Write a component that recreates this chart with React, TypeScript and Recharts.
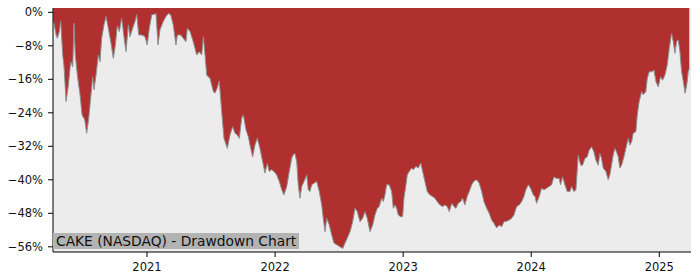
import React from "react";
import { AreaChart, Area, XAxis, YAxis, CartesianGrid } from "recharts";

// decimal-year timestamps and drawdown (%)
const years = [
  2020.268, 2020.274, 2020.29, 2020.3, 2020.315, 2020.326, 2020.342, 2020.352, 2020.368, 2020.386,
  2020.404, 2020.42, 2020.43, 2020.44, 2020.456, 2020.477, 2020.493, 2020.514, 2020.529, 2020.545,
  2020.56, 2020.576, 2020.586, 2020.602, 2020.62, 2020.633, 2020.646, 2020.664, 2020.68, 2020.698,
  2020.717, 2020.737, 2020.753, 2020.768, 2020.784, 2020.802, 2020.82, 2020.836, 2020.854, 2020.867,
  2020.888, 2020.906, 2020.92, 2020.935, 2020.959, 2020.984, 2021.002, 2021.018, 2021.037, 2021.055,
  2021.07, 2021.086, 2021.101, 2021.127, 2021.148, 2021.166, 2021.185, 2021.205, 2021.226, 2021.237,
  2021.263, 2021.283, 2021.304, 2021.315, 2021.336, 2021.361, 2021.388, 2021.408, 2021.427, 2021.44,
  2021.453, 2021.466, 2021.492, 2021.518, 2021.531, 2021.549, 2021.564, 2021.583, 2021.601, 2021.627,
  2021.648, 2021.669, 2021.687, 2021.705, 2021.721, 2021.739, 2021.752, 2021.773, 2021.791, 2021.804,
  2021.825, 2021.843, 2021.861, 2021.882, 2021.903, 2021.921, 2021.939, 2021.955, 2021.973, 2021.991,
  2022.012, 2022.033, 2022.052, 2022.069, 2022.091, 2022.111, 2022.13, 2022.142, 2022.155, 2022.169,
  2022.181, 2022.194, 2022.208, 2022.226, 2022.247, 2022.259, 2022.272, 2022.286, 2022.304, 2022.325,
  2022.345, 2022.364, 2022.376, 2022.39, 2022.403, 2022.423, 2022.442, 2022.46, 2022.481, 2022.507,
  2022.528, 2022.546, 2022.564, 2022.585, 2022.606, 2022.624, 2022.642, 2022.663, 2022.684, 2022.702,
  2022.72, 2022.741, 2022.762, 2022.78, 2022.798, 2022.813, 2022.832, 2022.845, 2022.858, 2022.871,
  2022.891, 2022.91, 2022.923, 2022.936, 2022.949, 2022.962, 2022.98, 2022.996, 2023.006, 2023.022,
  2023.032, 2023.048, 2023.066, 2023.079, 2023.1, 2023.118, 2023.137, 2023.152, 2023.17, 2023.188,
  2023.209, 2023.23, 2023.248, 2023.266, 2023.287, 2023.308, 2023.326, 2023.344, 2023.36, 2023.379,
  2023.397, 2023.412, 2023.43, 2023.449, 2023.464, 2023.482, 2023.5, 2023.516, 2023.535, 2023.553,
  2023.574, 2023.594, 2023.613, 2023.631, 2023.652, 2023.672, 2023.691, 2023.709, 2023.73, 2023.75,
  2023.769, 2023.787, 2023.808, 2023.828, 2023.847, 2023.865, 2023.886, 2023.906, 2023.925, 2023.943,
  2023.958, 2023.977, 2023.995, 2024.016, 2024.029, 2024.042, 2024.062, 2024.081, 2024.099, 2024.12,
  2024.14, 2024.159, 2024.177, 2024.198, 2024.219, 2024.229, 2024.245, 2024.263, 2024.281, 2024.302,
  2024.315, 2024.333, 2024.349, 2024.367, 2024.386, 2024.401, 2024.419, 2024.437, 2024.453, 2024.471,
  2024.489, 2024.505, 2024.523, 2024.536, 2024.549, 2024.562, 2024.583, 2024.601, 2024.614, 2024.627,
  2024.64, 2024.653, 2024.666, 2024.679, 2024.692, 2024.706, 2024.724, 2024.739, 2024.757, 2024.77,
  2024.784, 2024.796, 2024.817, 2024.828, 2024.843, 2024.862, 2024.874, 2024.895, 2024.906, 2024.921,
  2024.94, 2024.958, 2024.974, 2024.992, 2025.01, 2025.026, 2025.044, 2025.062, 2025.078, 2025.096,
  2025.109, 2025.122, 2025.135, 2025.148, 2025.161, 2025.174, 2025.188, 2025.201, 2025.214, 2025.226,
  2025.234,
];

const drawdown = [
  -2.0, -2.6, -5.4, -6.2, -4.6, -2.1, -10.2, -13.0, -21.3, -17.4,
  -11.8, -13.0, -2.6, -10.2, -15.0, -19.7, -24.5, -25.7, -28.9, -25.3,
  -20.5, -15.4, -18.5, -15.0, -10.2, -11.8, -6.2, -3.0, -1.0, -3.8,
  -7.0, -11.0, -7.8, -3.2, -4.6, -1.4, -5.8, -9.4, -3.0, -5.8,
  -3.8, -2.2, -0.5, -5.4, -5.4, -5.8, -7.8, -3.8, -0.6, -0.5,
  -0.3, -7.8, -4.2, -2.2, -1.0, -0.3, -0.6, -3.0, -7.8, -5.4,
  -5.4, -6.2, -7.0, -3.8, -4.6, -7.0, -10.2, -9.4, -10.2, -5.8,
  -10.2, -15.0, -15.8, -18.9, -19.3, -18.0, -16.4, -23.7, -30.1, -32.5,
  -29.3, -27.3, -28.9, -29.3, -30.1, -25.3, -24.5, -28.1, -29.7, -31.7,
  -34.5, -31.7, -30.1, -32.5, -35.7, -38.4, -36.1, -38.0, -37.6, -38.0,
  -38.8, -40.4, -42.4, -43.6, -41.6, -38.0, -34.8, -34.0, -33.7, -35.7,
  -41.2, -44.4, -41.6, -40.4, -38.8, -42.4, -42.8, -41.2, -40.8, -40.4,
  -42.8, -46.0, -49.2, -52.4, -49.2, -50.8, -53.2, -55.1, -55.5, -56.0,
  -56.4, -55.1, -53.9, -52.4, -50.0, -46.8, -47.6, -50.0, -49.2, -47.6,
  -49.2, -52.4, -50.8, -48.4, -46.8, -46.4, -44.4, -45.2, -43.6, -41.2,
  -41.2, -42.8, -46.8, -46.0, -46.8, -48.4, -48.8, -48.8, -44.4, -41.2,
  -38.8, -38.0, -37.2, -37.6, -36.8, -37.2, -36.0, -38.0, -40.4, -42.8,
  -43.6, -44.0, -44.4, -45.2, -46.0, -46.4, -46.0, -46.4, -47.6, -45.6,
  -46.4, -46.8, -45.6, -45.2, -44.4, -46.0, -44.0, -42.8, -41.2, -40.3,
  -40.0, -40.8, -42.8, -45.2, -46.8, -48.0, -49.6, -50.4, -51.5, -50.8,
  -51.2, -50.0, -49.9, -49.6, -49.2, -48.4, -46.4, -46.0, -45.2, -44.0,
  -42.4, -41.2, -42.0, -43.6, -44.0, -45.6, -44.0, -42.0, -42.4, -42.0,
  -41.6, -41.2, -39.3, -39.7, -39.7, -41.2, -39.3, -41.2, -42.8, -42.8,
  -41.6, -42.8, -42.4, -34.1, -36.5, -36.5, -34.9, -34.5, -32.9, -32.1,
  -33.3, -35.3, -36.5, -33.7, -34.9, -37.2, -38.0, -40.0, -38.8, -36.5,
  -34.1, -32.5, -33.3, -34.5, -37.2, -36.5, -34.5, -32.5, -30.1, -31.7,
  -30.9, -28.9, -28.5, -24.5, -21.3, -18.9, -19.7, -18.9, -15.8, -14.2,
  -14.2, -13.8, -16.6, -17.8, -15.4, -16.2, -15.0, -12.6, -8.6, -5.0,
  -7.0, -9.8, -7.0, -6.6, -9.4, -14.2, -16.6, -19.3, -17.4, -14.2,
  -13.4,
];

const yearTicks = [2021, 2022, 2023, 2024, 2025];
const pctTicks = [0, -8, -16, -24, -32, -40, -48, -56];

const data = years.map((t, i) => ({ t, dd: drawdown[i] }));

const font = "'DejaVu Sans', sans-serif";
const tickStyle = { fontSize: 11.5, fill: "#111", fontFamily: font };
const fmtPct = (v: number) => (v === 0 ? "0%" : `\u2212${Math.abs(v)}%`);

export default function App() {
  return (
    <div style={{ position: "absolute", left: 0, top: 0, width: 700, height: 280, background: "#fff" }}>
      <AreaChart width={700} height={280} data={data} margin={{ top: 8, right: 9, bottom: 0, left: 0 }}>
        <CartesianGrid fill="#ececec" stroke="none" horizontal={false} vertical={false} />
        <XAxis
          dataKey="t"
          type="number"
          domain={[2020.266, 2025.2475]}
          ticks={yearTicks}
          allowDataOverflow
          height={28}
          tick={tickStyle}
          tickSize={5}
          tickMargin={6}
          stroke="#000"
          tickFormatter={(v) => String(v)}
        />
        <XAxis xAxisId="top" orientation="top" dataKey="t" type="number" domain={[2020.266, 2025.2475]}
          height={0} tick={false} tickLine={false} stroke="#000" />
        <YAxis
          type="number"
          domain={[-57.24, 1.03]}
          ticks={pctTicks}
          allowDataOverflow
          width={53}
          tick={tickStyle}
          tickSize={5}
          tickMargin={5}
          stroke="#000"
          tickFormatter={fmtPct}
        />
        <YAxis yAxisId="right" orientation="right" domain={[-57.24, 1.03]} width={0}
          tick={false} tickLine={false} stroke="#000" />
        <Area
          type="linear"
          dataKey="dd"
          baseValue="dataMax"
          stroke="#8f8f8f"
          strokeWidth={1}
          fill="#b03030"
          fillOpacity={1}
          isAnimationActive={false}
          dot={false}
          activeDot={false}
        />
      </AreaChart>
      <div
        style={{
          position: "absolute",
          left: 53,
          top: 233,
          height: 16,
          lineHeight: "16px",
          padding: "0 3px",
          background: "#b3b3b3",
          color: "#111",
          fontFamily: font,
          fontSize: 13.8,
          whiteSpace: "nowrap",
        }}
      >
        CAKE (NASDAQ) - Drawdown Chart
      </div>
    </div>
  );
}
